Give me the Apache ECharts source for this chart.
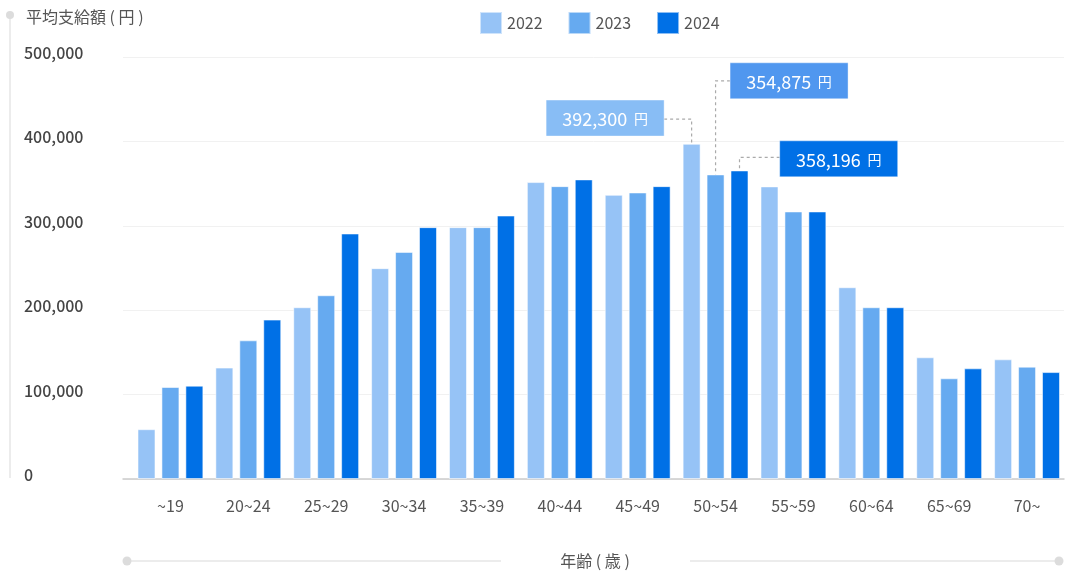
<!DOCTYPE html>
<html>
<head>
<meta charset="utf-8">
<script src="https://cdn.jsdelivr.net/npm/echarts@6/dist/echarts.min.js"></script>
<style>
  html, body { margin: 0; padding: 0; background: #fff; }
  #main { width: 1066px; height: 572px; }
</style>
</head>
<body>
<div id="main"></div>
<script>
// 年齢区分
var categories = ['~19', '20~24', '25~29', '30~34', '35~39', '40~44', '45~49', '50~54', '55~59', '60~64', '65~69', '70~'];
var years = ['2022', '2023', '2024'];
// 平均支給額 (円)
var values2022 = [59000, 132000, 203500, 249800, 298400, 351800, 336700, 397200, 346700, 227200, 144200, 141800];
var values2023 = [109000, 164300, 217700, 269100, 298400, 347000, 339500, 360900, 317000, 203500, 119300, 133100];
var values2024 = [110600, 188900, 290900, 298400, 312200, 355000, 347000, 365600, 317000, 203500, 131100, 126700];
var yTicks = [0, 100000, 200000, 300000, 400000, 500000];

// 吹き出し (50~54歳)
var calloutCategory = 7;
var calloutText = ['392,300', '354,875', '358,196'];

var FONT = "'Noto Sans CJK JP', 'Noto Sans', sans-serif";
var colors = ['#96c3f6', '#66aaf0', '#0070e6'];
var boxColors = ['#88bdf5', '#5097ef', '#0070e6'];
// 吹き出しの位置 (棒の上端中央からの相対値)
var calloutLayout = [
    { boxDx: -145.5, boxDy: -43.7, elbowDy: -24.7, side: 'left' },
    { boxDx: 14.5, boxDy: -111.6, elbowDy: -93.6, side: 'right' },
    { boxDx: 40.2, boxDy: -29.6, elbowDy: -13, side: 'right' }
];
var BOX_W = 118, BOX_H = 36;

var chart = echarts.init(document.getElementById('main'));
var seriesValues = [values2022, values2023, values2024];

var option = {
    animation: false,
    textStyle: { fontFamily: FONT },
    legend: {
        left: 474,
        top: 6,
        itemWidth: 22,
        itemHeight: 22,
        itemGap: 25,
        icon: 'rect',
        data: years,
        textStyle: { fontSize: 16, color: '#555', fontFamily: FONT }
    },
    grid: [
        { left: 131.5, top: 57, width: 936, height: 422 },
        { left: 123, top: 57, width: 941, height: 422 }
    ],
    xAxis: [{
        type: 'category',
        gridIndex: 0,
        data: categories,
        axisLine: { show: false },
        axisTick: { show: false },
        axisLabel: { margin: 19, fontSize: 16, color: '#555', fontFamily: FONT }
    }, {
        type: 'value',
        gridIndex: 1,
        min: 0,
        max: 1,
        axisLine: { show: true, lineStyle: { color: '#cccccc', width: 1.5 } },
        axisTick: { show: false },
        axisLabel: { show: false },
        splitLine: { show: false }
    }],
    yAxis: [{
        type: 'value',
        gridIndex: 0,
        min: yTicks[0],
        max: yTicks[yTicks.length - 1],
        interval: yTicks[1] - yTicks[0],
        show: false
    }, {
        type: 'value',
        gridIndex: 1,
        min: yTicks[0],
        max: yTicks[yTicks.length - 1],
        interval: yTicks[1] - yTicks[0],
        axisLine: { show: false },
        axisTick: { show: false },
        axisLabel: {
            align: 'left',
            verticalAlign: 'bottom',
            lineHeight: 8,
            margin: 99,
            fontSize: 16,
            fontWeight: 500,
            color: '#444',
            fontFamily: FONT,
            formatter: function (v) { return v.toLocaleString('en-US'); }
        },
        splitLine: { lineStyle: { color: '#f1f1f1', width: 1 } }
    }],
    series: years.map(function (y, i) {
        return {
            name: y,
            type: 'bar',
            xAxisIndex: 0,
            yAxisIndex: 0,
            barWidth: 18,
            barGap: '33%',
            data: seriesValues[i],
            itemStyle: { color: colors[i], borderColor: 'rgba(255,255,255,0.55)', borderWidth: 1 }
        };
    })
};
chart.setOption(option);

// 棒の上端 (ライブラリのレイアウトから取得)
function barTop(si, di) {
    var l = chart.getModel().getSeriesByIndex(si).getData().getItemLayout(di);
    return [l.x + l.width / 2, Math.min(l.y, l.y + l.height)];
}

var graphics = [
    // 縦軸の飾り線
    { type: 'line', shape: { x1: 10, y1: 15, x2: 10, y2: 478 }, style: { stroke: '#e6e6e6', lineWidth: 1.5 }, silent: true },
    { type: 'circle', shape: { cx: 10, cy: 15, r: 4 }, style: { fill: '#dcdcdc' }, silent: true },
    { type: 'text', x: 26, y: 17, style: { text: '平均支給額 ( 円 )', fontSize: 16, fontFamily: FONT, fill: '#555', textVerticalAlign: 'middle' } },
    // 横軸の飾り線
    { type: 'line', shape: { x1: 127, y1: 561, x2: 501, y2: 561 }, style: { stroke: '#e6e6e6', lineWidth: 1.5 }, silent: true },
    { type: 'line', shape: { x1: 690, y1: 561, x2: 1059, y2: 561 }, style: { stroke: '#e6e6e6', lineWidth: 1.5 }, silent: true },
    { type: 'circle', shape: { cx: 127, cy: 561, r: 4.5 }, style: { fill: '#dcdcdc' }, silent: true },
    { type: 'circle', shape: { cx: 1059, cy: 561, r: 4.5 }, style: { fill: '#dcdcdc' }, silent: true },
    { type: 'text', x: 595, y: 561, style: { text: '年齢 ( 歳 )', fontSize: 16, fontFamily: FONT, fill: '#555', textAlign: 'center', textVerticalAlign: 'middle' } }
];

calloutText.forEach(function (t, i) {
    var p = barTop(i, calloutCategory);
    var c = calloutLayout[i];
    var bx = p[0] + c.boxDx, by = p[1] + c.boxDy, ey = p[1] + c.elbowDy;
    var edgeX = c.side === 'left' ? bx + BOX_W : bx;
    graphics.push({
        type: 'polyline',
        shape: { points: [[edgeX, ey], [p[0], ey], [p[0], p[1]]] },
        style: { stroke: '#aaaaaa', lineWidth: 1.2, lineDash: [3, 3], fill: null },
        silent: true
    });
    graphics.push({
        type: 'rect',
        shape: { x: bx, y: by, width: BOX_W, height: BOX_H },
        style: { fill: boxColors[i], stroke: 'rgba(255,255,255,0.4)', lineWidth: 1 }
    });
    graphics.push({
        type: 'text',
        x: bx + BOX_W / 2,
        y: by + BOX_H / 2 + 1,
        style: {
            text: '{n|' + t + '}  {u|円}',
            textAlign: 'center',
            textVerticalAlign: 'middle',
            fill: '#fff',
            rich: {
                n: { fontSize: 18, fontFamily: FONT, fill: '#fff' },
                u: { fontSize: 14, fontFamily: FONT, fill: '#fff' }
            }
        }
    });
});

chart.setOption({ graphic: graphics });
</script>
</body>
</html>
